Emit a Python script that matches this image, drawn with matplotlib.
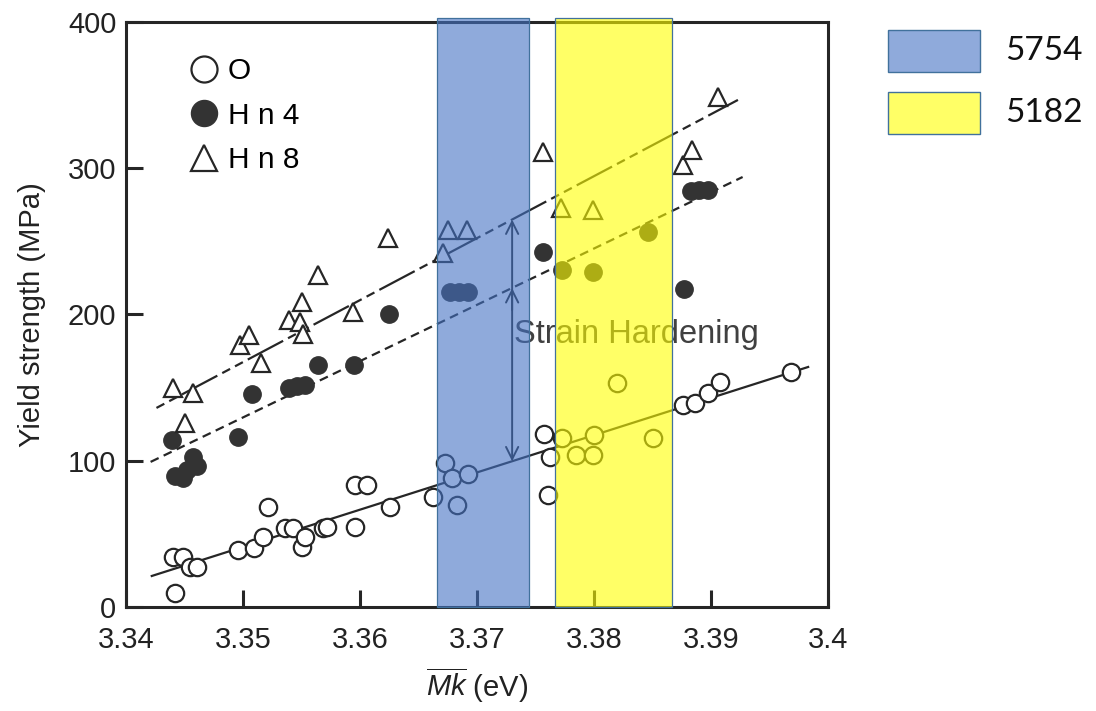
import numpy as np
import matplotlib
matplotlib.use("Agg")
import matplotlib.pyplot as plt
from matplotlib.patches import Rectangle

plt.rcParams['font.family'] = ['Liberation Sans', 'DejaVu Sans']
plt.rcParams['mathtext.fontset'] = 'custom'
plt.rcParams['mathtext.rm'] = 'Liberation Sans'
plt.rcParams['mathtext.it'] = 'Liberation Sans:italic'

# O (annealed) - open circles
o_x = [3.3442, 3.3440, 3.3449, 3.3455, 3.3461, 3.3496, 3.3509, 3.3517, 3.3521, 3.3536,
       3.3543, 3.3550, 3.3553, 3.3568, 3.3572, 3.3596, 3.3606, 3.3596, 3.3626, 3.3662,
       3.3673, 3.3679, 3.3683, 3.3692, 3.3757, 3.3762, 3.3761, 3.3773, 3.3785, 3.3799,
       3.3800, 3.3820, 3.3850, 3.3876, 3.3886, 3.3897, 3.3908, 3.3968]
o_y = [9.6, 34.2, 34.2, 27.4, 27.4, 39.0, 40.3, 47.9, 68.4, 54.0,
       54.0, 41.0, 47.9, 54.0, 54.7, 83.4, 83.4, 54.7, 68.4, 75.2,
       98.5, 88.2, 69.7, 90.9, 118.3, 102.6, 76.6, 115.6, 103.9, 103.9,
       117.6, 153.2, 115.6, 138.1, 139.5, 146.3, 153.9, 160.7]

# H n 4 - filled circles
h4_x = [3.3439, 3.3442, 3.3449, 3.3452, 3.3457, 3.3461, 3.3496, 3.3508, 3.3539, 3.3546,
        3.3553, 3.3564, 3.3595, 3.3625, 3.3677, 3.3685, 3.3692, 3.3756, 3.3773, 3.3799,
        3.3846, 3.3877, 3.3883, 3.3890, 3.3897]
h4_y = [114.2, 89.6, 88.2, 93.7, 102.6, 96.4, 116.2, 145.6, 149.8, 151.1,
        151.8, 165.5, 165.5, 200.4, 215.4, 215.4, 215.4, 242.7, 230.4, 229.1,
        256.4, 217.4, 284.5, 285.1, 285.1]

# H n 8 - open triangles
h8_x = [3.3440, 3.3457, 3.3450, 3.3497, 3.3505, 3.3515, 3.3539, 3.3550, 3.3549, 3.3551,
        3.3564, 3.3594, 3.3624, 3.3671, 3.3675, 3.3691, 3.3756, 3.3772, 3.3799, 3.3876,
        3.3884, 3.3906]
h8_y = [149.8, 146.3, 125.8, 179.2, 186.0, 166.8, 196.3, 208.6, 194.9, 186.7,
        227.0, 201.7, 252.3, 242.1, 257.8, 257.8, 311.1, 272.8, 271.5, 302.2,
        312.5, 348.7]

# fitted lines (end points)
o_fit_x = [3.3422, 3.3983]
o_fit_y = [21.2, 164.1]
h4_fit_x = [3.3421, 3.3927]
h4_fit_y = [99.2, 294.0]
h8_fit_x = [3.3426, 3.3923]
h8_fit_y = [136.1, 346.7]

# strain hardening arrow
arrow_x = 3.3730
arrow_y = [99.6, 218.0, 264.9]

# alloy ranges
bands = {'5754': (3.3666, 3.3744), '5182': (3.3767, 3.3867)}
band_colors = {'5754': (68/255, 114/255, 196/255, 0.6), '5182': (1.0, 1.0, 0.0, 0.6)}

xticks = [3.34, 3.35, 3.36, 3.37, 3.38, 3.39, 3.40]
xtick_labels = ['3.34', '3.35', '3.36', '3.37', '3.38', '3.39', '3.4']
yticks = [0, 100, 200, 300, 400]

ink = '#262626'

fig = plt.figure(figsize=(10.96, 7.11), dpi=100)
ax = fig.add_axes([0.115, 0.1463, 0.6405, 0.8228])

ax.plot(o_fit_x, o_fit_y, color=ink, lw=1.6, zorder=2)
ax.plot(h4_fit_x, h4_fit_y, color=ink, lw=1.6, ls=(0, (4, 2.5)), zorder=2)
ax.plot(h8_fit_x, h8_fit_y, color=ink, lw=1.6, ls=(0, (4, 2.5, 4, 2.5, 18, 2.5)), zorder=2)

ax.plot(o_x, o_y, 'o', ms=12.5, mfc='white', mec=ink, mew=1.6, label='O', zorder=3)
ax.plot(h4_x, h4_y, 'o', ms=12.5, mfc='#333333', mec='#333333', mew=1.0, label='H n 4', zorder=3)
ax.plot(h8_x, h8_y, '^', ms=12.5, mfc='white', mec=ink, mew=1.6, label='H n 8', zorder=3)

# double arrow + middle head
ax.annotate('', xy=(arrow_x, arrow_y[2]), xytext=(arrow_x, arrow_y[0]),
            arrowprops=dict(arrowstyle='<->', color=ink, lw=1.4,
                            mutation_scale=22, shrinkA=0, shrinkB=0), zorder=2)
ax.annotate('', xy=(arrow_x, arrow_y[1]), xytext=(arrow_x, arrow_y[1] - 15),
            arrowprops=dict(arrowstyle='->', color=ink, lw=1.4,
                            mutation_scale=22, shrinkA=0, shrinkB=0), zorder=2)
ax.text(3.3732, 186, 'Strain Hardening', fontsize=23.5, color='#404040',
        ha='left', va='center', zorder=2)

for name, (x0, x1) in bands.items():
    ax.axvspan(x0, x1, ymin=0, ymax=1.007, facecolor=band_colors[name],
               edgecolor='#41719C', lw=0.9, clip_on=False, zorder=6)

ax.set_xlim(3.34, 3.40)
ax.set_ylim(0, 400)
ax.set_xticks(xticks, xtick_labels)
ax.set_yticks(yticks)
ax.tick_params(direction='in', length=12, width=2.2, color=ink, labelsize=21,
               labelcolor='#222222', top=False, right=False)
ax.tick_params(axis='x', pad=14)
ax.tick_params(axis='y', pad=7)
for s in ax.spines.values():
    s.set_linewidth(2.2)
    s.set_color(ink)

ax.set_ylabel('Yield strength (MPa)', fontsize=21, color='#222222', labelpad=16)
ax.set_xlabel(r'$\overline{\mathit{Mk}}$ (eV)', fontsize=21, color='#222222', labelpad=8)

leg = ax.legend(loc='upper left', bbox_to_anchor=(0.06, 0.975), frameon=False,
                fontsize=21.5, markerscale=1.5, handlelength=1.0, handletextpad=0.3,
                labelspacing=0.55, borderpad=0.2)

# alloy legend on the right
for i, name in enumerate(bands):
    y0 = 1 - (72 + 62 * i) / 711
    fig.add_artist(Rectangle((888 / 1096, y0), 92 / 1096, 42 / 711,
                             transform=fig.transFigure, facecolor=band_colors[name],
                             edgecolor='#41719C', lw=1.0))
    fig.text(1005 / 1096, y0 + 21 / 711, name, fontsize=24, family='Lato',
             color='#111111', va='center', ha='left')

fig.savefig('out.png', dpi=100)
